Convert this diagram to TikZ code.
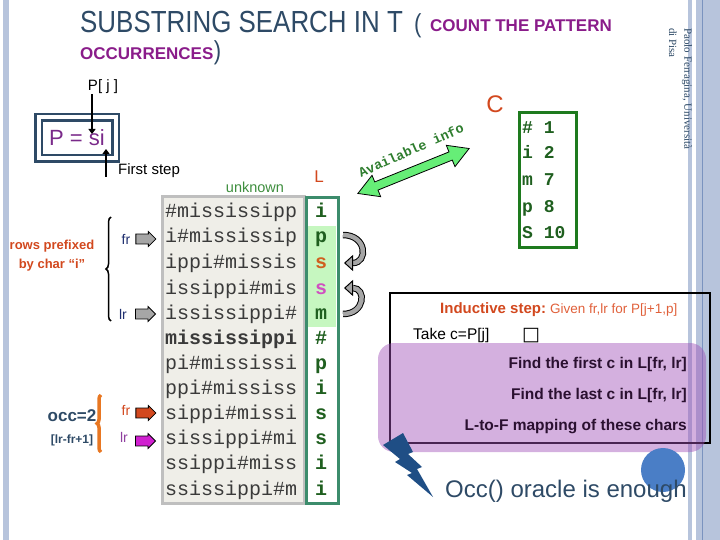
\documentclass[tikz,border=0pt]{standalone}
\usepackage{fontspec}
\setmainfont{Liberation Sans}
\newfontfamily\monofont{Liberation Mono}
\newfontfamily\titlefont[FakeStretch=0.85]{Liberation Sans}
\newfontfamily\seriffont{Liberation Serif}
\newfontfamily\symfont{DejaVu Sans}
\usepackage{xcolor}
\usetikzlibrary{shapes, arrows.meta, positioning, decorations.pathreplacing}

\definecolor{titleblue}{HTML}{2E4A66}
\definecolor{titlepurple}{HTML}{8A1C8A}
\definecolor{psi}{HTML}{7A2A8A}
\definecolor{redorange}{HTML}{D2481E}
\definecolor{unkgreen}{HTML}{3E8E3E}
\definecolor{fbg}{HTML}{EFEEE8}
\definecolor{fborder}{HTML}{BFBFBF}
\definecolor{lborder}{HTML}{3C8C6C}
\definecolor{lhigh}{HTML}{C6F7C0}
\definecolor{lgreen}{HTML}{1F5F1F}
\definecolor{cborder}{HTML}{1E7A1E}
\definecolor{arrgreen}{HTML}{66EE77}
\definecolor{infogreen}{HTML}{2E7D2E}
\definecolor{barblue}{HTML}{B7C4DC}
\definecolor{bardark}{HTML}{7A93BF}
\definecolor{lavender}{HTML}{A050B8}
\definecolor{boltblue}{HTML}{1F4E85}
\definecolor{circblue}{HTML}{4A7EC6}
\definecolor{frnavy}{HTML}{1F2F6F}
\definecolor{lrpurple}{HTML}{9040A0}
\definecolor{magarrow}{HTML}{D020D0}
\definecolor{rowgray}{HTML}{3A3A3A}
\definecolor{darktxt}{HTML}{2A1030}
\definecolor{bracketorange}{HTML}{E87722}
\definecolor{givenorange}{HTML}{E0603A}
\definecolor{sorange}{HTML}{D06020}
\definecolor{spink}{HTML}{D050C0}

\tikzset{
    rowtxt/.style={anchor=base west, inner sep=0pt, text=rowgray, font=\monofont\fontsize{20}{20}\selectfont},
    lchr/.style={anchor=base, inner sep=0pt, text=lgreen, font=\monofont\bfseries\fontsize{20}{20}\selectfont},
    cchr/.style={anchor=base west, inner sep=0pt, text=lgreen, font=\monofont\bfseries\fontsize{18}{18}\selectfont},
    ptr/.style={inner sep=0pt, font=\fontsize{14}{14}\selectfont},
    fatarrow/.style={single arrow, draw=black, line width=0.8pt, minimum height=20pt, minimum width=15pt, inner sep=3.5pt, single arrow head extend=2pt},
    steparrow/.style={draw=black, line width=2.5pt, -{Triangle[length=5pt, width=7pt]}},
    bendarrow/.style={draw=black, double=gray!70, double distance=4.5pt, line width=1pt, -{Triangle[length=9pt, width=16pt, fill=gray!70]}},
    findtxt/.style={anchor=base east, inner sep=0pt, text=darktxt, font=\bfseries\fontsize{15.5}{15.5}\selectfont}
}

\begin{document}
\begin{tikzpicture}[x=1pt, y=-1pt]
        \useasboundingbox (0, 0) rectangle (720, 540);
        \fill[barblue] (3, 0) rectangle (9, 540);
        \fill[barblue] (688, 0) rectangle (692, 540);
        \fill[barblue] (696, 0) rectangle (720, 540);
        \draw[bardark, line width=1pt] (702, 0) -- (702, 540);

        \node[anchor=base west, inner sep=0pt, text=titleblue, font=\titlefont\fontsize{30.5}{30.5}\selectfont] (title) at (80, 33) {SUBSTRING SEARCH IN T};
        \node[anchor=base west, inner sep=0pt, text=titleblue, font=\titlefont\fontsize{26}{26}\selectfont] (lpar) at (414, 33) {(};
        \node[anchor=base west, inner sep=0pt, text=titlepurple, font=\bfseries\fontsize{17}{17}\selectfont] (count) at (430, 32) {COUNT THE PATTERN};
        \node[anchor=base west, inner sep=0pt, text=titlepurple, font=\bfseries\fontsize{17}{17}\selectfont] (occur) at (80, 60) {OCCURRENCES};
        \node[anchor=base west, inner sep=0pt, text=titleblue, font=\titlefont\fontsize{26}{26}\selectfont] (rpar) at (occur.base east) {)};

        \node[rotate=-90, anchor=west, inner sep=0pt, text=titleblue, font=\seriffont\fontsize{11}{11}\selectfont] (aff1) at (687, 28) {Paolo Ferragina, Università};
        \node[rotate=-90, anchor=west, inner sep=0pt, text=titleblue, font=\seriffont\fontsize{11}{11}\selectfont] (aff2) at (673, 28) {di Pisa};

        \node[inner sep=0pt, font=\fontsize{15}{15}\selectfont] (pj) at (103, 87) {P[ j ]};
        \node[draw=titleblue, line width=2.5pt, double=white, double distance=4pt, minimum width=77pt, minimum height=41pt, text=psi, font=\fontsize{22}{22}\selectfont] (pbox) at (77, 138) {P = si};
        \node[anchor=west, inner sep=0pt, font=\fontsize{15}{15}\selectfont] (first) at (118, 171) {First step};
        \coordinate (jtip) at (92, 134);
        \coordinate (sbot) at (106, 177);
        \coordinate (stip) at (106, 149);
        \draw[steparrow] (jtip |- pj.south) -- (jtip);
        \draw[steparrow] (sbot) -- (stip);

        \node[inner sep=0pt, text=unkgreen, font=\fontsize{14.5}{14.5}\selectfont] (unknown) at (255, 187) {unknown};
        \node[inner sep=0pt, text=redorange, font=\fontsize{17}{17}\selectfont] (Llab) at (319, 177) {L};

        \draw[fborder, fill=fbg, line width=3pt] (162, 197) rectangle (304, 503);
        \fill[lhigh] (308, 226) rectangle (336, 327);
        \draw[lborder, line width=3pt] (306, 198) rectangle (338, 503);

        \node[rowtxt] (r0) at (165, 218) {\#mississipp};
        \node[rowtxt] (r1) at (165, 243) {i\#mississip};
        \node[rowtxt] (r2) at (165, 268) {ippi\#missis};
        \node[rowtxt] (r3) at (165, 294) {issippi\#mis};
        \node[rowtxt] (r4) at (165, 319) {ississippi\#};
        \node[rowtxt, font=\monofont\bfseries\fontsize{20}{20}\selectfont] (r5) at (165, 344) {mississippi};
        \node[rowtxt] (r6) at (165, 369) {pi\#mississi};
        \node[rowtxt] (r7) at (165, 394) {ppi\#mississ};
        \node[rowtxt] (r8) at (165, 419) {sippi\#missi};
        \node[rowtxt] (r9) at (165, 444) {sissippi\#mi};
        \node[rowtxt] (r10) at (165, 469) {ssippi\#miss};
        \node[rowtxt] (r11) at (165, 495) {ssissippi\#m};

        \node[lchr] (l0) at (321, 218) {i};
        \node[lchr] (l1) at (321, 243) {p};
        \node[lchr, text=sorange] (l2) at (321, 268) {s};
        \node[lchr, text=spink] (l3) at (321, 294) {s};
        \node[lchr] (l4) at (321, 319) {m};
        \node[lchr] (l5) at (321, 344) {\#};
        \node[lchr] (l6) at (321, 369) {p};
        \node[lchr] (l7) at (321, 394) {i};
        \node[lchr] (l8) at (321, 419) {s};
        \node[lchr] (l9) at (321, 444) {s};
        \node[lchr] (l10) at (321, 469) {i};
        \node[lchr] (l11) at (321, 495) {i};

        \coordinate (b1s) at (343, 235);
        \coordinate (b1e) at (344, 263);
        \coordinate (b2s) at (343, 314);
        \coordinate (b2e) at (344, 288);
        \draw[bendarrow] (b1s) to[out=0, in=0, looseness=2.2] (b1e);
        \draw[bendarrow] (b2s) to[out=0, in=0, looseness=2.2] (b2e);

        \node[ptr, text=frnavy] (fr1) at (126, 239) {fr};
        \node[ptr, text=frnavy] (lr1) at (123, 314) {lr};
        \node[fatarrow, fill=gray!70, right=5pt of fr1] (afr1) {};
        \node[fatarrow, fill=gray!70, right=8pt of lr1] (alr1) {};
        \node[ptr, text=redorange] (fr2) at (126, 410) {fr};
        \node[ptr, text=lrpurple] (lr2) at (124, 437) {lr};
        \node[fatarrow, fill=redorange, right=5pt of fr2, yshift=-3pt] (afr2) {};
        \node[fatarrow, fill=magarrow, right=7pt of lr2, yshift=-4pt] (alr2) {};

        \draw[line width=1.5pt, decorate, decoration={brace, amplitude=5pt}] (111, 321) -- (111, 217);
        \node[align=center, inner sep=0pt, text=redorange, font=\bfseries\fontsize{13}{19}\selectfont] (prefix) at (52, 256) {rows prefixed\\by char “i”};

        \draw[bracketorange, line width=3.5pt, decorate, decoration={brace, amplitude=4pt}] (101, 452) -- (101, 395);
        \node[inner sep=0pt, text=titleblue, font=\bfseries\fontsize{17}{17}\selectfont] (occ) at (72, 416) {occ=2};
        \node[inner sep=0pt, text=titleblue, font=\bfseries\fontsize{12}{12}\selectfont] (occf) at (72, 440) {[lr-fr+1]};

        \node[double arrow, draw=black, line width=0.8pt, fill=arrgreen, minimum height=120pt, minimum width=20pt, inner sep=4pt, double arrow tip angle=60, rotate=22] (avail) at (413.5, 171) {};
        \node[rotate=24, inner sep=0pt, text=infogreen, font=\monofont\bfseries\fontsize{13.5}{13.5}\selectfont] (info) at (411, 150) {Available info};

        \node[inner sep=0pt, text=redorange, font=\fontsize{24}{24}\selectfont] (Clab) at (495, 104) {C};
        \draw[cborder, line width=3pt] (519, 113) rectangle (576, 247);
        \node[cchr] (c0) at (522, 134) {\# 1};
        \node[cchr] (c1) at (522, 159) {i 2};
        \node[cchr] (c2) at (522, 186) {m 7};
        \node[cchr] (c3) at (522, 212) {p 8};
        \node[cchr] (c4) at (522, 238) {S 10};

        \draw[black, line width=2.5pt] (390, 293) rectangle (710, 443);
        \node[anchor=base west, inner sep=0pt, text=redorange, font=\bfseries\fontsize{15}{15}\selectfont] (induct) at (440, 313) {Inductive step:};
        \node[anchor=base west, inner sep=0pt, text=givenorange, font=\fontsize{13.5}{13.5}\selectfont] (given) at (induct.base east) {~Given fr,lr for P[j+1,p]};
        \node[anchor=base west, inner sep=0pt, font=\fontsize{15.5}{15.5}\selectfont] (take) at (413, 339) {Take c=P[j]};
        \node[anchor=base west, inner sep=0pt, font=\symfont\fontsize{19}{19}\selectfont] (box) at (522, 340) {□};

        \fill[lavender, opacity=0.45, rounded corners=16pt] (378, 343) rectangle (706, 452);
        \node[findtxt] (find1) at (687, 368) {Find the first c in L[fr, lr]};
        \node[findtxt] (find2) at (687, 399) {Find the last c in L[fr, lr]};
        \node[findtxt] (find3) at (687, 430) {L-to-F mapping of these chars};

        \fill[boltblue] (383, 445) -- (403, 433) -- (413, 452) -- (408, 454) -- (422, 467) -- (417, 469) -- (433, 497) -- (407, 475) -- (412, 473) -- (395, 462) -- (400, 459) -- cycle;
        \fill[circblue] (663, 470) circle (22);
        \node[anchor=base west, inner sep=0pt, text=titleblue, font=\fontsize{24}{24}\selectfont] (oracle) at (445, 497) {Occ() oracle is enough};
    \end{tikzpicture}
\end{document}
